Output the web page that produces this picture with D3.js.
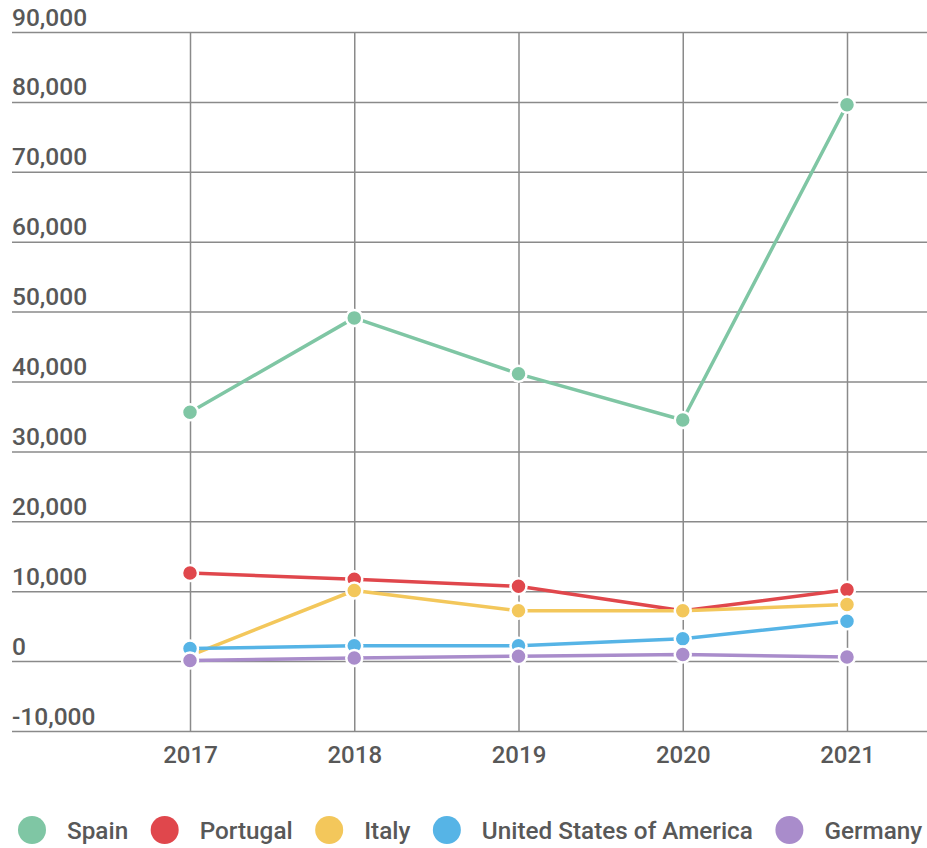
<!DOCTYPE html>
<html>
<head>
<meta charset="utf-8">
<script src="https://cdn.jsdelivr.net/npm/d3@7"></script>
<style>
  html, body { margin: 0; padding: 0; background: #fff; }
  svg { display: block; }
  svg text { font-family: Roboto, "Noto Sans", sans-serif; font-weight: 500; }
</style>
</head>
<body>
<svg id="chart" width="927" height="848"></svg>
<script>
// Yearly values per country
const years = ["2017", "2018", "2019", "2020", "2021"];
const spain = [35600, 49100, 41100, 34500, 79600];
const portugal = [12600, 11700, 10700, 7200, 10200];
const italy = [800, 10100, 7200, 7200, 8100];
const usa = [1800, 2200, 2200, 3200, 5700];
const germany = [100, 450, 700, 950, 600];

const seriesNames = ["Spain", "Portugal", "Italy", "United States of America", "Germany"];
const seriesValues = [spain, portugal, italy, usa, germany];
const seriesColors = ["#7fc6a4", "#e0474c", "#f3c75b", "#56b4e6", "#a98ccb"];
const yTicks = [-10000, 0, 10000, 20000, 30000, 40000, 50000, 60000, 70000, 80000, 90000];

const svg = d3.select("#chart");
const textColor = "#585858";
const gridColor = "#8a8a8a";
const fmt = d3.format(",");

const x = d3.scalePoint().domain(years).range([190, 847]);
const y = d3.scaleLinear().domain([-10000, 90000]).range([731, 32]);

// Horizontal gridlines with labels sitting above each line
const yAxis = svg.append("g")
  .attr("transform", "translate(12,0)")
  .call(d3.axisRight(y).tickValues(yTicks).tickSize(915)
    .tickFormat(d => fmt(d).replace("\u2212", "-")));
yAxis.select(".domain").remove();
yAxis.selectAll(".tick line").attr("stroke", gridColor).attr("stroke-width", 1.5);
yAxis.selectAll(".tick text")
  .attr("x", 0).attr("dy", -7)
  .attr("text-anchor", "start")
  .attr("fill", textColor)
  .style("font-size", "24.5px");

// Vertical gridlines and year labels
const xAxis = svg.append("g")
  .attr("transform", "translate(0,731)")
  .call(d3.axisBottom(x).tickSize(-(731 - 32)));
xAxis.select(".domain").remove();
xAxis.selectAll(".tick line").attr("stroke", gridColor).attr("stroke-width", 1.5);
xAxis.selectAll(".tick text")
  .attr("y", 32).attr("dy", null)
  .attr("fill", textColor)
  .style("font-size", "24px");

// Lines and points, drawn in legend order
const line = d3.line().x((d, i) => x(years[i])).y(d => y(d));
seriesValues.forEach((vals, s) => {
  const g = svg.append("g");
  g.append("path")
    .datum(vals)
    .attr("d", line)
    .attr("fill", "none")
    .attr("stroke", seriesColors[s])
    .attr("stroke-width", 3.5)
    .attr("stroke-linejoin", "round");
  g.selectAll("circle")
    .data(vals)
    .join("circle")
    .attr("cx", (d, i) => x(years[i]))
    .attr("cy", d => y(d))
    .attr("r", 8)
    .attr("fill", seriesColors[s])
    .attr("stroke", "#fff")
    .attr("stroke-width", 2.5);
});

// Legend along the bottom
const legend = svg.append("g").attr("transform", "translate(0,830)");
let cx = 32;
seriesNames.forEach((name, s) => {
  legend.append("circle")
    .attr("cx", cx).attr("cy", 0).attr("r", 14)
    .attr("fill", seriesColors[s]);
  const t = legend.append("text")
    .attr("x", cx + 35).attr("y", 8.5)
    .attr("fill", textColor)
    .style("font-size", "24.3px")
    .text(name);
  cx += 35 + t.node().getComputedTextLength() + 36.5;
});
</script>
</body>
</html>
